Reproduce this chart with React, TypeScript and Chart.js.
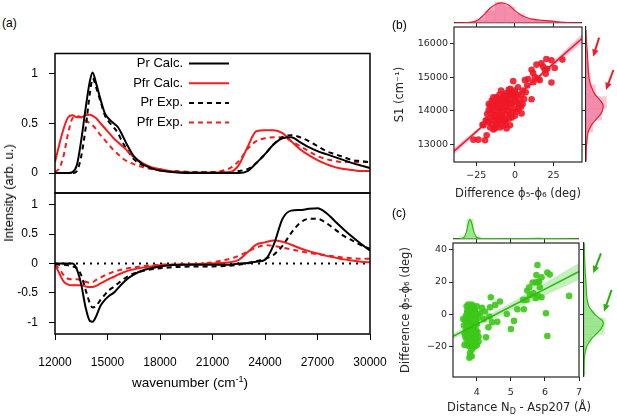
import React, { useEffect, useRef } from "react";
import { Chart, registerables } from "chart.js";

Chart.register(...registerables);

// ---------------- Panel (a): spectra ----------------
const wavenumbers = [12000, 12250, 12500, 12750, 13000, 13250, 13500, 13750, 14000, 14150, 14350, 14600, 14850, 15100, 15350, 15600, 15850, 16100, 16500, 17000, 17500, 18000, 19000, 20000, 21000, 21500, 22000, 22500, 23000, 23500, 24000, 24500, 25000, 25500, 26000, 26500, 27000, 27500, 28000, 28500, 29000, 29500, 30000];
const prCalcAbs = [0, 0, 0, 0, 0.01, 0.08, 0.33, 0.65, 0.93, 1.01, 0.9, 0.74, 0.6, 0.54, 0.5, 0.46, 0.38, 0.29, 0.17, 0.09, 0.05, 0.025, 0.005, 0, 0, 0, 0, 0, 0.02, 0.1, 0.19, 0.29, 0.35, 0.36, 0.31, 0.26, 0.22, 0.19, 0.16, 0.13, 0.1, 0.075, 0.05];
const pfrCalcAbs = [0.11, 0.29, 0.45, 0.56, 0.58, 0.56, 0.56, 0.58, 0.585, 0.575, 0.55, 0.5, 0.45, 0.4, 0.35, 0.31, 0.27, 0.23, 0.16, 0.1, 0.06, 0.04, 0.01, 0.005, 0.005, 0.005, 0.01, 0.08, 0.26, 0.42, 0.43, 0.43, 0.4, 0.32, 0.24, 0.18, 0.13, 0.09, 0.06, 0.04, 0.03, 0.02, 0.02];
const prExpAbs = [0, 0, 0, 0, 0, 0.02, 0.17, 0.45, 0.81, 0.95, 0.86, 0.72, 0.58, 0.51, 0.46, 0.4, 0.31, 0.24, 0.14, 0.08, 0.05, 0.03, 0.015, 0.01, 0.01, 0.01, 0.01, 0.02, 0.04, 0.1, 0.19, 0.29, 0.36, 0.38, 0.36, 0.32, 0.27, 0.22, 0.19, 0.16, 0.13, 0.12, 0.11];
const pfrExpAbs = [0.01, 0.05, 0.18, 0.4, 0.55, 0.57, 0.56, 0.53, 0.5, 0.48, 0.44, 0.38, 0.33, 0.28, 0.23, 0.19, 0.15, 0.12, 0.09, 0.06, 0.04, 0.025, 0.015, 0.01, 0.01, 0.02, 0.05, 0.12, 0.24, 0.32, 0.35, 0.36, 0.36, 0.32, 0.27, 0.22, 0.17, 0.14, 0.12, 0.11, 0.11, 0.11, 0.11];
const prCalcDiff = [0, 0, 0, 0, 0, -0.1, -0.36, -0.75, -0.98, -0.99, -0.9, -0.72, -0.62, -0.55, -0.5, -0.42, -0.34, -0.27, -0.19, -0.12, -0.08, -0.05, -0.02, -0.02, -0.02, -0.02, -0.02, 0, 0.01, 0.03, 0.06, 0.32, 0.76, 0.9, 0.91, 0.93, 0.94, 0.86, 0.72, 0.58, 0.45, 0.33, 0.22];
const pfrCalcDiff = [-0.02, -0.17, -0.31, -0.36, -0.37, -0.37, -0.37, -0.39, -0.4, -0.4, -0.38, -0.34, -0.3, -0.26, -0.23, -0.19, -0.16, -0.13, -0.1, -0.07, -0.05, -0.03, -0.02, -0.01, 0, 0.01, 0.02, 0.06, 0.19, 0.32, 0.36, 0.39, 0.37, 0.32, 0.26, 0.21, 0.17, 0.13, 0.1, 0.07, 0.05, 0.03, 0.02];
const prExpDiff = [-0.01, -0.02, -0.02, -0.03, -0.05, -0.08, -0.2, -0.45, -0.68, -0.75, -0.72, -0.62, -0.53, -0.45, -0.4, -0.34, -0.28, -0.23, -0.17, -0.13, -0.1, -0.08, -0.06, -0.05, -0.05, -0.045, -0.04, -0.02, 0, 0.04, 0.08, 0.15, 0.3, 0.52, 0.69, 0.76, 0.76, 0.69, 0.58, 0.47, 0.39, 0.31, 0.25];
const pfrExpDiff = [-0.02, -0.09, -0.2, -0.26, -0.27, -0.27, -0.28, -0.31, -0.33, -0.32, -0.28, -0.24, -0.2, -0.17, -0.14, -0.12, -0.1, -0.085, -0.065, -0.045, -0.03, -0.02, -0.015, -0.01, 0.02, 0.05, 0.08, 0.13, 0.2, 0.27, 0.31, 0.3, 0.27, 0.24, 0.21, 0.18, 0.16, 0.14, 0.12, 0.1, 0.09, 0.08, 0.08];
const zeroLineX = [12000, 30000];
const zeroLineY = [0, 0];
const absTicks = [0, 0.5, 1];
const diffTicks = [-1, -0.5, 0, 0.5, 1];
const wnTicks = [12000, 15000, 18000, 21000, 24000, 27000, 30000];

// ---------------- Panel (b): S1 vs phi difference ----------------
const bDiff = [-26.9, -23.7, -19.4, -18.3, -20.4, -18.3, -12.9, -9.7, -5.4, -3.2, -14, 20.4, 23.7, 30.8, 25.8, 23.7, 19.4, 10.8, 11.8, 14, 6.5, 8.6, -1.1, 4.3, 4.3, 10.8, 16.1, 18.3, 17.2, 21, 13, 2, 5, 8, -3, 0, 3, 7, 12, 15, 20, -17, -15, -13, -11, -9, -7, -16, -14, -12, -10, -8, -6, -4, -19, -21, -18, -16, -14, -12, -10, -8, -6, -4, -2, 0, -15, -11, -9, -7, -13, -5, -17, -3, 1, -16, -14, -12, -10, -8, -6, -4, -2, 0, -13, -11, -9, -7, -5, -3, -1, 2, -15, -17, 3, -12, -10, -8, -6, -4, -2, -9, -7, -5, -3, 1, -11, -14, 0, 2, -6, -8, -10, -2, -16, -12, 0, 2, 4, 6, 5, -1, -4];
const bS1 = [13140, 13140, 13120, 13270, 13570, 13720, 13470, 13500, 13470, 13570, 13440, 15540, 15500, 15520, 15270, 14840, 15220, 15220, 15120, 15370, 14910, 14940, 14880, 14470, 13920, 14340, 14910, 15310, 15410, 15250, 15000, 14700, 14600, 14750, 14650, 14520, 14300, 14550, 14850, 14950, 15100, 13650, 13600, 13700, 13620, 13750, 13680, 13780, 13820, 13760, 13850, 13800, 13720, 13760, 13700, 13580, 13900, 13950, 14000, 13920, 14050, 13980, 13900, 14000, 13950, 14050, 14080, 14100, 13880, 14080, 13850, 14100, 14020, 13880, 13980, 14150, 14250, 14180, 14300, 14220, 14160, 14280, 14200, 14280, 14120, 14230, 14140, 14320, 14240, 14130, 14350, 14220, 14300, 14200, 14150, 14400, 14480, 14380, 14520, 14450, 14560, 14600, 14450, 14380, 14500, 14420, 14350, 14400, 14600, 14480, 13600, 13550, 13700, 13800, 13500, 13550, 13850, 14050, 14120, 14350, 14200, 14450, 14620];
const fitBX = [-39.5, -25, -10, 0, 10, 25, 43.5];
const fitBY = [12795, 13380, 13986, 14390, 14794, 15400, 16147];
const bandBLo = [12705, 13325, 13956, 14365, 14759, 15330, 16025];
const bandBHi = [12885, 13435, 14016, 14415, 14829, 15470, 16265];
const bTicksX = [-25, 0, 25];
const bTicksY = [13000, 14000, 15000, 16000];
const kdeBTopX = [-39, -32, -28, -24, -20, -16, -12, -8, -4, 0, 4, 8, 12, 16, 20, 24, 28, 32, 36, 43];
const kdeBTopD = [0, 0.01, 0.04, 0.15, 0.42, 0.75, 0.95, 1.0, 0.9, 0.62, 0.4, 0.26, 0.18, 0.15, 0.12, 0.09, 0.06, 0.03, 0.01, 0];
const histBTopX = [-29, -22.6, -16.1, -9.7, -3.2, 3.2, 9.7, 16.1, 22.6, 29];
const histBTopH = [0.04, 0.15, 0.6, 1.05, 0.8, 0.45, 0.22, 0.13, 0.12, 0.05];
const kdeBRightY = [12500, 12800, 13000, 13200, 13400, 13600, 13750, 13900, 14050, 14200, 14350, 14500, 14700, 14900, 15100, 15300, 15500, 15700, 15900, 16100, 16400];
const kdeBRightD = [0, 0.01, 0.03, 0.07, 0.15, 0.35, 0.6, 0.85, 0.98, 0.97, 0.75, 0.5, 0.32, 0.2, 0.15, 0.12, 0.1, 0.08, 0.05, 0.02, 0];
const histBRightY = [12855, 13200, 13545, 13895, 14245, 14595, 14940, 15285, 15635];
const histBRightH = [0.05, 0.1, 0.4, 0.92, 1.18, 0.55, 0.25, 0.15, 0.06];
const arrowBFrom = [[0.76, 16173], [1.59, 15211]];
const arrowBTo = [[0.42, 15607], [1.16, 14616]];

// ---------------- Panel (c): phi difference vs distance ----------------
const cDist = [3.7, 3.75, 3.8, 3.85, 3.9, 3.95, 4.0, 3.72, 3.78, 3.82, 3.88, 3.92, 3.68, 3.74, 3.8, 3.86, 3.9, 3.96, 4.02, 3.66, 3.72, 3.76, 3.82, 3.84, 3.88, 3.94, 3.98, 3.7, 3.74, 3.78, 3.8, 3.86, 3.9, 3.92, 3.96, 3.68, 3.72, 3.76, 3.8, 3.84, 3.88, 3.94, 3.66, 3.7, 3.76, 3.82, 3.86, 3.9, 3.98, 3.64, 3.72, 3.78, 3.84, 3.9, 3.96, 3.85, 3.8, 3.85, 3.78, 3.74, 3.8, 3.84, 3.78, 3.86, 3.82, 3.76, 3.9, 3.7, 3.74, 3.88, 3.92, 3.8, 3.82, 3.76, 3.72, 3.86, 3.78, 3.88, 4.0, 4.02, 4.04, 3.62, 3.64, 3.6, 3.95, 3.98, 4.05, 3.94, 4.0, 4.1, 4.24, 4.39, 4.41, 4.54, 4.68, 4.37, 4.34, 4.27, 4.6, 4.88, 5.0, 5.09, 5.19, 5.38, 5.46, 5.48, 5.54, 5.64, 5.73, 5.78, 5.83, 5.75, 5.85, 5.73, 5.8, 5.9, 6.03, 6.07, 6.07, 6.14, 6.71, 5.56, 5.36, 5.66, 4.15, 4.2, 4.05, 4.45, 5.78, 5.9];
const cPhiDiff = [5, 6, 4, 6, 5, 3, 5, 2, 1, 3, 0, 2, -1, -2, -1, -3, -1, -2, 0, -4, -5, -3, -6, -4, -5, -6, -4, -7, -8, -6, -9, -7, -8, -10, -9, -10, -12, -11, -13, -10, -12, -13, -14, -16, -15, -17, -14, -16, -15, -19, -19, -20, -19, -20, -18, -22, -24, -26, -27, -1, -3, -8, -4, -11, 0, -9, -3, -3, -6, -1, -4, -6, -11, -13, 1, 2, -17, -18, -6, -11, -2, -7, -12, -3, 1, -12, -17, -20, -19, 0.6, 1.7, 4.3, 10.6, 5.8, 7.9, -1.4, -8.1, -14.3, -4.6, 0.2, -9.1, -4.1, 3.1, 3.1, 8.9, 14.7, 16.8, 19.7, 19.7, 30.6, 20.3, 24.4, 16.8, 9.9, 11.4, 10.6, 0.6, -13.5, 25.9, 24.6, 11.4, 12, 8.9, 13, 4, -3, -14, -5, 20, 23];
const fitCX = [3.3, 4, 5, 6, 7];
const fitCY = [-13.7, -6.1, 4.8, 15.6, 26.5];
const bandCLo = [-15.4, -7.9, 2.5, 11.6, 21.2];
const bandCHi = [-12.0, -4.3, 7.1, 19.6, 31.8];
const cTicksX = [4, 5, 6, 7];
const cTicksY = [-20, 0, 20, 40];
const kdeCTopX = [3.3, 3.5, 3.6, 3.65, 3.7, 3.75, 3.8, 3.85, 3.9, 3.95, 4.0, 4.1, 4.3, 4.6, 5.0, 5.4, 5.8, 6.2, 6.6, 7.0];
const kdeCTopD = [0, 0.005, 0.05, 0.15, 0.4, 0.8, 1.0, 0.8, 0.45, 0.2, 0.08, 0.03, 0.02, 0.015, 0.01, 0.02, 0.03, 0.02, 0.01, 0];
const histCTopX = [3.6, 3.8, 4.0, 4.2, 4.4, 4.6, 4.8, 5.0, 5.2, 5.4, 5.6, 5.8, 6.0, 6.2, 6.4, 6.6];
const histCTopH = [0.15, 1.0, 0.15, 0.03, 0.03, 0.02, 0.01, 0.02, 0.01, 0.02, 0.03, 0.04, 0.03, 0.01, 0, 0.01];
const kdeCRightY = [-38, -30, -25, -20, -15, -12, -9, -6, -4, -2, 0, 3, 6, 10, 15, 20, 25, 30, 35, 40, 44];
const kdeCRightD = [0, 0.01, 0.04, 0.14, 0.4, 0.65, 0.88, 1.0, 0.95, 0.75, 0.55, 0.35, 0.22, 0.15, 0.12, 0.1, 0.07, 0.05, 0.03, 0.02, 0.01];
const histCRightY = [-25, -20, -15, -10, -5, 0, 5, 10, 15, 20, 25, 30];
const histCRightH = [0.05, 0.15, 0.4, 1.05, 1.1, 0.55, 0.25, 0.12, 0.08, 0.1, 0.05, 0.03];
const arrowCFrom = [[0.88, 37.8], [1.43, 15.1]];
const arrowCTo = [[0.48, 25.4], [1.04, 1.6]];

// ---------------- styles ----------------
const FONT_A = "'Liberation Sans', Arial, Helvetica, sans-serif";
const FONT_B = "'DejaVu Sans', 'Liberation Sans', sans-serif";
const RED_A = "#f21d1d";
const TXT = "#262626";
const AX = "#262626";
const RED = { line: "rgb(236,28,42)", pt: "rgba(240,24,40,0.9)", band: "rgba(250,130,170,0.55)", kde: "rgba(238,70,120,0.45)", hist: "rgba(246,140,172,0.5)" };
const GREEN = { line: "rgb(45,185,15)", pt: "rgba(60,200,25,0.9)", band: "rgba(140,225,125,0.5)", kde: "rgba(90,210,70,0.4)", hist: "rgba(150,232,130,0.5)" };

const pts = (xs: number[], ys: number[]) => xs.map((x, i) => ({ x, y: ys[i] }));
const fixedTicks = (vals: number[]) => (scale: any) => { scale.ticks = vals.map((v) => ({ value: v })); };
const noPad = (scale: any) => { scale.paddingTop = 0; scale.paddingBottom = 0; scale.paddingLeft = 0; scale.paddingRight = 0; };
const fixWidth = (w: number) => (scale: any) => { scale.width = w; noPad(scale); };
const fixHeight = (h: number) => (scale: any) => { scale.height = h; noPad(scale); };
const minusFmt = (v: any) => (Number(v) < 0 ? "\u2212" + Math.abs(Number(v)) : String(v));

const framePlugin: any = {
  id: "frame",
  afterDatasetsDraw(chart: any, _a: any, opts: any) {
    if (!opts || !opts.color) return;
    const { ctx, chartArea: a } = chart;
    ctx.save();
    ctx.strokeStyle = opts.color;
    ctx.lineWidth = opts.width;
    ctx.strokeRect(a.left, a.top, a.right - a.left, a.bottom - a.top);
    ctx.restore();
  },
};

const textLegendPlugin: any = {
  id: "textLegend",
  afterDatasetsDraw(chart: any, _a: any, opts: any) {
    const { ctx } = chart;
    ctx.save();
    ctx.font = opts.font;
    ctx.textAlign = "right";
    ctx.textBaseline = "middle";
    ctx.fillStyle = "#000";
    chart.data.datasets.forEach((ds: any, i: number) => {
      const y = opts.top + i * opts.rowGap;
      ctx.fillText(ds.label, opts.textRight, y);
      ctx.beginPath();
      ctx.setLineDash(ds.borderDash || []);
      ctx.strokeStyle = ds.borderColor;
      ctx.lineWidth = ds.borderWidth;
      ctx.moveTo(opts.textRight + opts.gap, y);
      ctx.lineTo(opts.textRight + opts.gap + opts.sample, y);
      ctx.stroke();
    });
    ctx.restore();
  },
};

const arrowPlugin: any = {
  id: "arrows",
  afterDraw(chart: any, _a: any, opts: any) {
    const { ctx } = chart;
    const sx = chart.scales.x, sy = chart.scales.y;
    ctx.save();
    ctx.strokeStyle = opts.color;
    ctx.fillStyle = opts.color;
    ctx.lineWidth = 2;
    opts.from.forEach((f: number[], i: number) => {
      const t = opts.to[i];
      const x0 = sx.getPixelForValue(f[0]), y0 = sy.getPixelForValue(f[1]);
      const x1 = sx.getPixelForValue(t[0]), y1 = sy.getPixelForValue(t[1]);
      const ang = Math.atan2(y1 - y0, x1 - x0);
      ctx.beginPath();
      ctx.moveTo(x0, y0);
      ctx.lineTo(x1 - 5 * Math.cos(ang), y1 - 5 * Math.sin(ang));
      ctx.stroke();
      ctx.beginPath();
      ctx.moveTo(x1, y1);
      ctx.lineTo(x1 - 8 * Math.cos(ang - 0.42), y1 - 8 * Math.sin(ang - 0.42));
      ctx.lineTo(x1 - 8 * Math.cos(ang + 0.42), y1 - 8 * Math.sin(ang + 0.42));
      ctx.closePath();
      ctx.fill();
    });
    ctx.restore();
  },
};

const base: any = { animation: false, responsive: false, maintainAspectRatio: false, devicePixelRatio: 1, events: [] };

// ---------- panel (a) ----------
const spec = (label: string, ys: number[], color: string, dashed: boolean) => ({
  type: "line", label, data: pts(wavenumbers, ys), borderColor: color, borderWidth: 2,
  borderDash: dashed ? [5, 4] : [], pointRadius: 0, cubicInterpolationMode: "monotone", fill: false,
});

const yAxisA = (min: number, max: number, ticks: number[]) => ({
  type: "linear", min, max,
  afterBuildTicks: fixedTicks(ticks),
  afterFit: fixWidth(55),
  grid: { display: true, drawOnChartArea: false, drawTicks: true, tickLength: 6, color: "#000", lineWidth: 1 },
  border: { display: false },
  ticks: { padding: 11, color: "#000", font: { family: FONT_A, size: 12 }, callback: (v: any) => String(v) },
});

function makeUpper(): any {
  return {
    type: "line",
    data: { datasets: [spec("Pr Calc.", prCalcAbs, "#000", false), spec("Pfr Calc.", pfrCalcAbs, RED_A, false), spec("Pr Exp.", prExpAbs, "#000", true), spec("Pfr Exp.", pfrExpAbs, RED_A, true)] },
    options: {
      ...base,
      layout: { padding: { left: 0, right: 25, top: 13.5, bottom: 7 } },
      scales: { x: { type: "linear", min: 12000, max: 30000, display: false, afterFit: noPad }, y: yAxisA(-0.2, 1.2, absTicks) },
      plugins: {
        legend: { display: false }, tooltip: { enabled: false },
        frame: { color: "#000", width: 1.5 },
        textLegend: { font: `13px ${FONT_A}`, textRight: 183, top: 23.5, rowGap: 19.7, gap: 6, sample: 40 },
      },
    },
    plugins: [framePlugin, textLegendPlugin],
  };
}

function makeLower(): any {
  return {
    type: "line",
    data: {
      datasets: [
        spec("Pr Calc.", prCalcDiff, "#000", false), spec("Pfr Calc.", pfrCalcDiff, RED_A, false),
        spec("Pr Exp.", prExpDiff, "#000", true), spec("Pfr Exp.", pfrExpDiff, RED_A, true),
        { type: "line", label: "zero", data: pts(zeroLineX, zeroLineY), borderColor: "#000", borderWidth: 2, borderDash: [2, 5], pointRadius: 0, fill: false },
      ],
    },
    options: {
      ...base,
      layout: { padding: { left: 0, right: 25, top: 8, bottom: 0 } },
      scales: {
        x: {
          type: "linear", min: 12000, max: 30000, afterBuildTicks: fixedTicks(wnTicks), afterFit: fixHeight(40),
          grid: { display: true, drawOnChartArea: false, tickLength: 6, color: "#000", lineWidth: 1 }, border: { display: false },
          ticks: { padding: 15, maxRotation: 0, autoSkip: false, color: "#000", font: { family: FONT_A, size: 12 }, callback: (v: any) => String(v) },
        },
        y: yAxisA(-1.2, 1.2, diffTicks),
      },
      plugins: { legend: { display: false }, tooltip: { enabled: false }, frame: { color: "#000", width: 1.5 } },
    },
    plugins: [framePlugin],
  };
}

// ---------- scatter panels ----------
function makeScatter(p: any): any {
  return {
    type: "scatter",
    data: {
      datasets: [
        { type: "line", data: pts(p.fitX, p.fitY), borderColor: p.col.line, borderWidth: 1.6, pointRadius: 0, fill: false, order: 0 },
        { type: "scatter", data: pts(p.xs, p.ys), backgroundColor: p.col.pt, borderWidth: 0, pointRadius: 3.3, order: 1 },
        { type: "line", data: pts(p.fitX, p.lo), borderColor: "transparent", borderWidth: 0, pointRadius: 0, fill: false, order: 3 },
        { type: "line", data: pts(p.fitX, p.hi), borderColor: "transparent", borderWidth: 0, pointRadius: 0, fill: "-1", backgroundColor: p.col.band, order: 2 },
      ],
    },
    options: {
      ...base,
      layout: { padding: { left: 0, right: p.padRight, top: 7, bottom: 0 } },
      scales: {
        x: {
          type: "linear", min: p.xMin, max: p.xMax, afterBuildTicks: fixedTicks(p.ticksX), afterFit: fixHeight(p.xAxisH),
          grid: { display: true, drawOnChartArea: false, tickLength: 4, color: AX, lineWidth: 1 }, border: { display: false },
          ticks: { padding: p.xTickPad, maxRotation: 0, autoSkip: false, color: TXT, font: { family: FONT_B, size: 9.5 }, callback: minusFmt },
          title: p.xTitle ? { display: true, text: p.xTitle, color: TXT, font: { family: FONT_B, size: 11.5 }, padding: { top: 0, bottom: 3 } } : { display: false },
        },
        y: {
          type: "linear", min: p.yMin, max: p.yMax, afterBuildTicks: fixedTicks(p.ticksY), afterFit: fixWidth(p.yAxisW),
          grid: { display: true, drawOnChartArea: false, tickLength: 4, color: AX, lineWidth: 1 }, border: { display: false },
          ticks: { padding: 2, color: TXT, font: { family: FONT_B, size: 9.5 }, callback: minusFmt },
          title: { display: true, text: p.yTitle, color: TXT, font: { family: FONT_B, size: 11.5 }, padding: { top: p.yTitlePad, bottom: 0 } },
        },
      },
      plugins: { legend: { display: false }, tooltip: { enabled: false }, frame: { color: AX, width: 1.2 } },
    },
    plugins: [framePlugin],
  };
}

function makeTopMarg(p: any): any {
  return {
    type: "bar",
    data: {
      datasets: [
        { type: "line", data: pts(p.kx, p.kd), borderColor: p.col.line, borderWidth: 1.2, pointRadius: 0, tension: 0.35, fill: "origin", backgroundColor: p.col.kde, order: 0 },
        { type: "bar", data: pts(p.hx, p.hh), backgroundColor: p.col.hist, barPercentage: 1, categoryPercentage: 1, order: 1 },
      ],
    },
    options: {
      ...base,
      layout: { padding: { left: 0, right: 0, top: p.padTop, bottom: 0 } },
      scales: {
        x: {
          type: "linear", min: p.xMin, max: p.xMax, offset: false, afterBuildTicks: fixedTicks(p.ticks), afterFit: fixHeight(4),
          grid: { display: true, offset: false, drawOnChartArea: false, tickLength: 4, color: AX, lineWidth: 1 },
          border: { display: true, color: AX, width: 1.2 }, ticks: { display: false },
        },
        y: { type: "linear", display: false, min: 0, max: p.dMax, afterFit: noPad },
      },
      plugins: { legend: { display: false }, tooltip: { enabled: false } },
    },
  };
}

function makeRightMarg(p: any): any {
  return {
    type: "bar",
    data: {
      datasets: [
        { type: "line", indexAxis: "y", data: pts(p.kd, p.ky), borderColor: p.col.line, borderWidth: 1.2, pointRadius: 0, tension: 0.35, fill: "origin", backgroundColor: p.col.kde, order: 0 },
        { type: "bar", indexAxis: "y", data: pts(p.hh, p.hy), backgroundColor: p.col.hist, barPercentage: 1, categoryPercentage: 1, order: 1 },
      ],
    },
    options: {
      ...base,
      indexAxis: "y",
      layout: { padding: { left: 0, right: 0, top: 7, bottom: 0 } },
      scales: {
        y: {
          type: "linear", position: "left", min: p.yMin, max: p.yMax, offset: false, afterBuildTicks: fixedTicks(p.ticks), afterFit: fixWidth(4),
          grid: { display: true, offset: false, drawOnChartArea: false, tickLength: 4, color: AX, lineWidth: 1 },
          border: { display: true, color: AX, width: 1.2 }, ticks: { display: false },
        },
        x: { type: "linear", display: false, min: 0, max: p.dMax, afterFit: noPad },
      },
      plugins: { legend: { display: false }, tooltip: { enabled: false }, arrows: { color: p.arrowColor, from: p.from, to: p.to } },
    },
    plugins: [arrowPlugin],
  };
}

const scatterB = () => makeScatter({
  fitX: fitBX, fitY: fitBY, lo: bandBLo, hi: bandBHi, xs: bDiff, ys: bS1, col: RED, padRight: 8,
  xMin: -39.5, xMax: 43.5, yMin: 12475, yMax: 16490, ticksX: bTicksX, ticksY: bTicksY, xAxisH: 42, xTickPad: 4,
  xTitle: "Difference \u03d5\u2085-\u03d5\u2086 (deg)", yTitle: "S1 (cm\u207b\u00b9)", yAxisW: 69, yTitlePad: 8,
});
const topB = () => makeTopMarg({ kx: kdeBTopX, kd: kdeBTopD, hx: histBTopX, hh: histBTopH, col: RED, xMin: -39.5, xMax: 43.5, ticks: bTicksX, padTop: 1, dMax: 1.1 });
const rightB = () => makeRightMarg({ ky: kdeBRightY, kd: kdeBRightD, hy: histBRightY, hh: histBRightH, col: RED, yMin: 12475, yMax: 16490, ticks: bTicksY, dMax: 1.8, arrowColor: "rgb(236,28,42)", from: arrowBFrom, to: arrowBTo });

const scatterC = () => makeScatter({
  fitX: fitCX, fitY: fitCY, lo: bandCLo, hi: bandCHi, xs: cDist, ys: cPhiDiff, col: GREEN, padRight: 6,
  xMin: 3.3, xMax: 7.0, yMin: -38.9, yMax: 44.2, ticksX: cTicksX, ticksY: cTicksY, xAxisH: 25, xTickPad: 5.5,
  xTitle: null, yTitle: "Difference \u03d5\u2085-\u03d5\u2086 (deg)", yAxisW: 68, yTitlePad: 14.5,
});
const topC = () => makeTopMarg({ kx: kdeCTopX, kd: kdeCTopD, hx: histCTopX, hh: histCTopH, col: GREEN, xMin: 3.3, xMax: 7.0, ticks: cTicksX, padTop: 3, dMax: 1.17 });
const rightC = () => makeRightMarg({ ky: kdeCRightY, kd: kdeCRightD, hy: histCRightY, hh: histCRightH, col: GREEN, yMin: -38.9, yMax: 44.2, ticks: cTicksY, dMax: 1.71, arrowColor: "rgb(45,175,15)", from: arrowCFrom, to: arrowCTo });

function ChartBox({ left, top, width, height, make }: any) {
  const ref = useRef<HTMLCanvasElement>(null);
  useEffect(() => {
    const chart = new Chart(ref.current as HTMLCanvasElement, make());
    return () => chart.destroy();
  }, []);
  return <canvas ref={ref} width={width} height={height} style={{ position: "absolute", left, top, width, height }} />;
}

const label = (extra: any) => ({ position: "absolute" as const, whiteSpace: "nowrap" as const, color: "#000", ...extra });

export default function App() {
  return (
    <div style={{ position: "absolute", left: 0, top: 0, width: 617, height: 418, background: "#fff", overflow: "hidden", fontFamily: FONT_A }}>
      <ChartBox left={0} top={40} width={395} height={160} make={makeUpper} />
      <ChartBox left={0} top={185} width={395} height={189} make={makeLower} />
      <ChartBox left={385} top={20} width={205} height={184} make={scatterB} />
      <ChartBox left={454} top={0} width={128} height={27} make={topB} />
      <ChartBox left={582} top={20} width={35} height={142} make={rightB} />
      <ChartBox left={385} top={236} width={200} height={166} make={scatterC} />
      <ChartBox left={453} top={213} width={126} height={30} make={topC} />
      <ChartBox left={580} top={236} width={37} height={141} make={rightC} />

      <div style={label({ left: 2, top: 16, fontSize: 12, lineHeight: "14px" })}>(a)</div>
      <div style={label({ left: 392, top: 18, fontSize: 12, lineHeight: "14px" })}>(b)</div>
      <div style={label({ left: 392, top: 206, fontSize: 12, lineHeight: "14px" })}>(c)</div>
      <div style={label({ left: 9, top: 193, fontSize: 13, lineHeight: "16px", transform: "translate(-50%, -50%) rotate(-90deg)" })}>Intensity (arb. u.)</div>
      <div style={label({ left: 190, top: 381, fontSize: 13.5, lineHeight: "16px", transform: "translate(-50%, -50%)" })}>
        wavenumber (cm<sup style={{ fontSize: 9, verticalAlign: "5px" }}>-1</sup>)
      </div>
      <div style={label({ left: 519, top: 409, fontSize: 11.5, lineHeight: "14px", fontFamily: FONT_B, color: TXT, transform: "translate(-50%, -50%)" })}>
        Distance N<sub style={{ fontSize: 8, verticalAlign: "-3px" }}>D</sub> - Asp207 (Å)
      </div>
    </div>
  );
}
